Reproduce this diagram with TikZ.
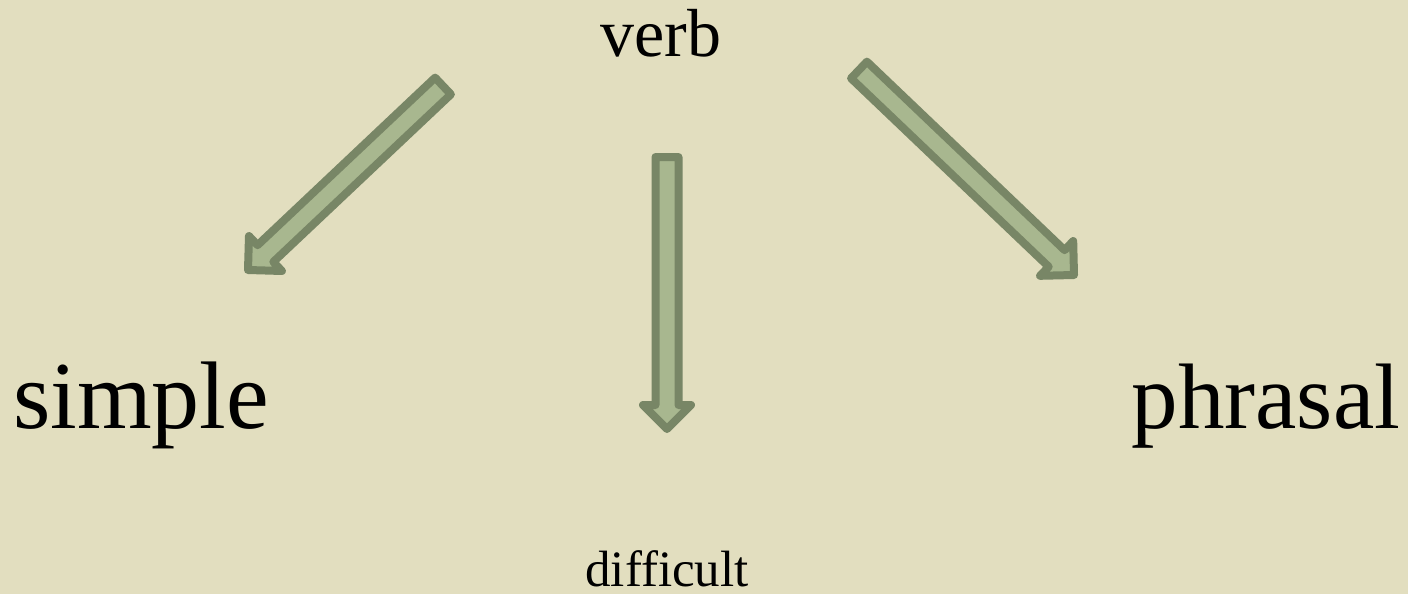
\documentclass[tikz,border=0pt]{standalone}
\usepackage{fontspec}
\setmainfont{Liberation Serif}
\usetikzlibrary{calc}
\definecolor{paper}{RGB}{226,222,191}
\definecolor{sagefill}{RGB}{168,183,143}
\definecolor{sageline}{RGB}{120,134,102}
\begin{document}
\begin{tikzpicture}[x=1pt, y=-1pt, word/.style={inner sep=0pt, anchor=base, text=black},
  blockarrow/.style={draw=sageline, fill=sagefill, line width=8pt, line join=round,
    to path={($(\tikztostart)!11.5pt!90:(\tikztotarget)$)
      -- ($($(\tikztotarget)!24pt!(\tikztostart)$)!11.5pt!90:(\tikztotarget)$)
      -- ($($(\tikztotarget)!24pt!(\tikztostart)$)!24pt!90:(\tikztotarget)$)
      -- (\tikztotarget)
      -- ($($(\tikztotarget)!24pt!(\tikztostart)$)!24pt!-90:(\tikztotarget)$)
      -- ($($(\tikztotarget)!24pt!(\tikztostart)$)!11.5pt!-90:(\tikztotarget)$)
      -- ($(\tikztostart)!11.5pt!-90:(\tikztotarget)$) -- cycle}}]
\fill[paper] (0,0) rectangle (1408,594);
% words
\node[word, font=\fontsize{68}{75}\selectfont] (verb) at (661,57) {verb};
\node[word, font=\fontsize{96}{105}\selectfont] (simple) at (141,428) {simple};
\node[word, font=\fontsize{93}{100}\selectfont] (phrasal) at (1266,428) {phrasal};
\node[word, font=\fontsize{51}{56}\selectfont] (difficult) at (667,586) {difficult};
% arrow ends
\coordinate (verb-sw) at (443,86); \coordinate (simple-ne) at (248,270);
\coordinate (verb-s) at (667,157); \coordinate (difficult-n) at (667,429);
\coordinate (verb-se) at (859,70); \coordinate (phrasal-nw) at (1074,275);
\path[blockarrow] (verb-sw) to (simple-ne);
\path[blockarrow] (verb-s) to (difficult-n);
\path[blockarrow] (verb-se) to (phrasal-nw);
\end{tikzpicture}
\end{document}
